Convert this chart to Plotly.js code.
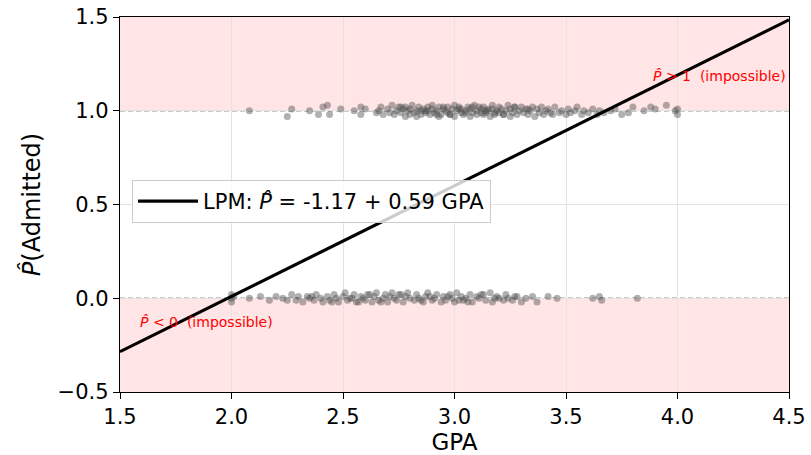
<!DOCTYPE html>
<html>
<head>
<meta charset="utf-8">
<script src="https://cdn.plot.ly/plotly-3.0.1.min.js"></script>
<style>html,body{margin:0;padding:0;background:#fff;}#chart{width:811px;height:455px;}</style>
</head>
<body>
<div id="chart"></div>
<script>
// LPM coefficients
const intercept = -1.17;
const slope = 0.59;
const lineGPA = [1.5, 4.5];

// Admitted (outcome = 1), GPA and jittered y
const gpaAdmit = [
  2.08, 2.25, 2.27, 2.35, 2.39, 2.41, 2.43, 2.44, 2.49, 2.55,
  2.58, 2.58, 2.60, 2.65, 2.66, 2.67, 2.68, 2.70, 2.71, 2.72,
  2.73, 2.74, 2.75, 2.76, 2.77, 2.78, 2.78, 2.79, 2.80, 2.80,
  2.81, 2.82, 2.83, 2.83, 2.84, 2.85, 2.86, 2.87, 2.87, 2.88,
  2.89, 2.90, 2.90, 2.91, 2.92, 2.93, 2.93, 2.94, 2.95, 2.96,
  2.97, 2.97, 2.98, 2.99, 3.00, 3.00, 3.01, 3.02, 3.03, 3.03,
  3.04, 3.05, 3.06, 3.07, 3.07, 3.08, 3.09, 3.10, 3.10, 3.11,
  3.12, 3.13, 3.13, 3.14, 3.15, 3.16, 3.17, 3.17, 3.18, 3.19,
  3.20, 3.20, 3.21, 3.22, 3.23, 3.24, 3.25, 3.25, 3.26, 3.27,
  3.28, 3.29, 3.30, 3.31, 3.32, 3.33, 3.34, 3.35, 3.36, 3.37,
  3.38, 3.39, 3.40, 3.41, 3.42, 3.44, 3.45, 3.47, 3.48, 3.50,
  3.51, 3.52, 3.54, 3.55, 3.57, 3.58, 3.60, 3.62, 3.64, 3.65,
  3.67, 3.70, 3.72, 3.75, 3.78, 3.80, 3.85, 3.88, 3.90, 3.95,
  3.99, 4.00, 4.00, 2.95, 3.05, 3.15, 3.22, 2.85, 3.08, 3.18,
  2.92, 3.02, 3.12, 3.27, 2.88, 2.98, 3.33, 3.43, 2.76, 3.14
];
const yAdmit = [
  1.00, 0.97, 1.01, 1.00, 0.98, 1.02, 1.03, 0.98, 1.01, 1.00,
  1.02, 0.98, 1.01, 0.99, 1.00, 1.02, 0.98, 1.01, 0.99, 1.03,
  0.98, 1.00, 1.02, 0.99, 1.01, 0.97, 1.02, 1.00, 0.98, 1.01,
  1.03, 0.99, 1.00, 0.97, 1.02, 0.98, 1.01, 1.00, 0.99, 1.02,
  0.98, 1.01, 1.03, 0.99, 1.00, 0.97, 1.02, 0.98, 1.01, 1.00,
  0.99, 1.02, 0.98, 1.01, 1.03, 0.97, 1.00, 1.02, 0.99, 1.01,
  0.98, 1.00, 1.02, 0.97, 1.01, 0.99, 1.03, 0.98, 1.00, 1.02,
  1.01, 0.98, 1.02, 0.99, 1.00, 0.97, 1.01, 1.03, 0.98, 1.00,
  1.02, 0.99, 1.01, 0.98, 1.00, 1.03, 0.97, 1.01, 0.99, 1.02,
  0.98, 1.00, 1.02, 0.99, 1.01, 0.98, 1.00, 1.02, 0.97, 1.01,
  0.99, 1.02, 0.98, 1.00, 1.01, 0.98, 1.02, 0.99, 1.00, 0.98,
  1.01, 0.99, 1.00, 1.02, 0.98, 1.00, 0.99, 1.01, 0.98, 1.00,
  0.99, 1.00, 1.01, 0.98, 0.99, 1.02, 1.00, 1.02, 1.01, 1.03,
  1.00, 0.98, 1.01, 1.02, 0.99, 1.01, 0.98, 1.00, 1.02, 0.99,
  0.98, 1.01, 0.99, 1.02, 1.00, 0.98, 1.01, 0.99, 1.02, 1.00
];

// Not admitted (outcome = 0), GPA and jittered y
const gpaReject = [
  2.00, 2.00, 2.00, 2.01, 2.08, 2.13, 2.17, 2.20, 2.23, 2.25,
  2.27, 2.29, 2.30, 2.32, 2.34, 2.35, 2.37, 2.38, 2.40, 2.41,
  2.43, 2.44, 2.46, 2.47, 2.48, 2.50, 2.51, 2.52, 2.54, 2.55,
  2.56, 2.58, 2.59, 2.60, 2.61, 2.63, 2.64, 2.65, 2.66, 2.68,
  2.69, 2.70, 2.71, 2.73, 2.74, 2.75, 2.77, 2.78, 2.79, 2.80,
  2.82, 2.83, 2.84, 2.86, 2.87, 2.88, 2.90, 2.91, 2.92, 2.94,
  2.95, 2.96, 2.98, 2.99, 3.00, 3.01, 3.03, 3.04, 3.05, 3.07,
  3.08, 3.10, 3.11, 3.13, 3.14, 3.16, 3.17, 3.19, 3.20, 3.22,
  3.23, 3.24, 3.26, 3.28, 3.30, 3.32, 3.35, 3.37, 3.42, 3.46,
  3.62, 3.65, 3.66, 3.82, 2.45, 2.62, 2.72, 2.85, 2.97, 3.06,
  2.53, 2.67, 2.76, 2.89, 3.02, 3.12, 3.18, 2.36, 2.57, 3.27
];
const yReject = [
  0.02, 0.00, -0.02, 0.01, 0.00, 0.01, -0.01, 0.01, 0.00, -0.01,
  0.02, -0.01, 0.01, -0.02, 0.01, 0.00, -0.01, 0.02, 0.00, -0.02,
  0.01, -0.01, 0.02, 0.00, -0.02, 0.01, 0.03, -0.01, 0.00, 0.02,
  -0.02, 0.01, 0.00, -0.01, 0.02, -0.02, 0.01, 0.03, -0.01, 0.00,
  0.02, -0.02, 0.01, 0.00, -0.01, 0.02, -0.02, 0.01, 0.03, 0.00,
  -0.01, 0.02, 0.00, -0.02, 0.01, 0.03, -0.01, 0.00, 0.02, -0.02,
  0.01, -0.01, 0.02, 0.00, -0.02, 0.03, 0.01, -0.01, 0.00, 0.02,
  -0.02, 0.01, 0.00, 0.02, -0.01, 0.03, -0.02, 0.01, 0.00, -0.01,
  0.02, 0.00, -0.01, 0.01, -0.02, 0.00, 0.01, -0.02, 0.01, 0.00,
  0.00, 0.01, -0.01, 0.00, -0.02, 0.02, 0.03, -0.01, 0.01, -0.02,
  0.00, -0.02, 0.02, 0.01, -0.01, 0.02, 0.00, 0.01, -0.02, 0.01
];

const xTicks = [1.5, 2.0, 2.5, 3.0, 3.5, 4.0, 4.5];
const yTicks = [-0.5, 0.0, 0.5, 1.0, 1.5];

const lineY = lineGPA.map(g => intercept + slope * g);
const ptColor = 'rgba(80,80,80,0.45)';
const FONT = 'DejaVu Sans, sans-serif';

const traces = [
  {x: gpaAdmit, y: yAdmit, type: 'scatter', mode: 'markers', showlegend: false,
   marker: {size: 7, color: ptColor, line: {width: 0}}, hoverinfo: 'skip'},
  {x: gpaReject, y: yReject, type: 'scatter', mode: 'markers', showlegend: false,
   marker: {size: 7, color: ptColor, line: {width: 0}}, hoverinfo: 'skip'},
  {x: lineGPA, y: lineY, type: 'scatter', mode: 'lines',
   name: 'LPM: <i>P̂</i> = ' + intercept.toFixed(2) + ' + ' + slope.toFixed(2) + ' GPA',
   line: {color: '#000', width: 3.2}}
];

const layout = {
  width: 811, height: 455,
  margin: {l: 120, r: 22, t: 17, b: 63},
  paper_bgcolor: '#fff', plot_bgcolor: '#fff',
  font: {family: FONT, color: '#000', size: 21},
  xaxis: {
    range: [1.5, 4.5], tickvals: xTicks, ticktext: xTicks.map(v => v.toFixed(1)),
    showgrid: true, gridcolor: '#e3e3e3', gridwidth: 1, zeroline: false,
    showline: true, linecolor: '#000', linewidth: 1.2, mirror: true,
    ticks: 'outside', ticklen: 6, tickcolor: '#000', tickfont: {size: 21, family: FONT},
    title: {text: 'GPA', font: {size: 23, family: FONT}, standoff: 4}
  },
  yaxis: {
    range: [-0.5, 1.5], tickvals: yTicks, ticktext: yTicks.map(v => (v < 0 ? '−' + Math.abs(v).toFixed(1) : v.toFixed(1))),
    showgrid: true, gridcolor: '#e3e3e3', gridwidth: 1, zeroline: false,
    showline: true, linecolor: '#000', linewidth: 1.2, mirror: true,
    ticks: 'outside', ticklen: 6, tickcolor: '#000', tickfont: {size: 21, family: FONT},
    title: {text: '<i>P̂</i>(Admitted)', font: {size: 24, family: FONT}, standoff: 10}
  },
  shapes: [
    {type: 'rect', xref: 'paper', x0: 0, x1: 1, yref: 'y', y0: 1, y1: 1.5,
     fillcolor: 'rgba(255,0,0,0.1)', line: {width: 0}, layer: 'below'},
    {type: 'rect', xref: 'paper', x0: 0, x1: 1, yref: 'y', y0: -0.5, y1: 0,
     fillcolor: 'rgba(255,0,0,0.1)', line: {width: 0}, layer: 'below'},
    {type: 'line', xref: 'paper', x0: 0, x1: 1, yref: 'y', y0: 1, y1: 1,
     line: {color: 'rgba(120,120,120,0.8)', width: 1.3, dash: '5px,3px'}, layer: 'below'},
    {type: 'line', xref: 'paper', x0: 0, x1: 1, yref: 'y', y0: 0, y1: 0,
     line: {color: 'rgba(120,120,120,0.8)', width: 1.3, dash: '5px,3px'}, layer: 'below'}
  ],
  annotations: [
    {x: 3.88, y: 1.185, xref: 'x', yref: 'y', xanchor: 'left', yanchor: 'middle',
     text: '<i>P̂</i> > 1  (impossible)', showarrow: false,
     font: {color: 'red', size: 14, family: FONT}},
    {x: 1.58, y: -0.125, xref: 'x', yref: 'y', xanchor: 'left', yanchor: 'middle',
     text: '<i>P̂</i> < 0  (impossible)', showarrow: false,
     font: {color: 'red', size: 14, family: FONT}}
  ],
  legend: {
    x: 0.018, y: 0.508, xanchor: 'left', yanchor: 'middle',
    bgcolor: 'rgba(255,255,255,0.8)', bordercolor: '#cccccc', borderwidth: 1,
    font: {size: 21, family: FONT}, itemwidth: 60
  }
};

Plotly.newPlot('chart', traces, layout, {displayModeBar: false, staticPlot: true});
</script>
</body>
</html>
